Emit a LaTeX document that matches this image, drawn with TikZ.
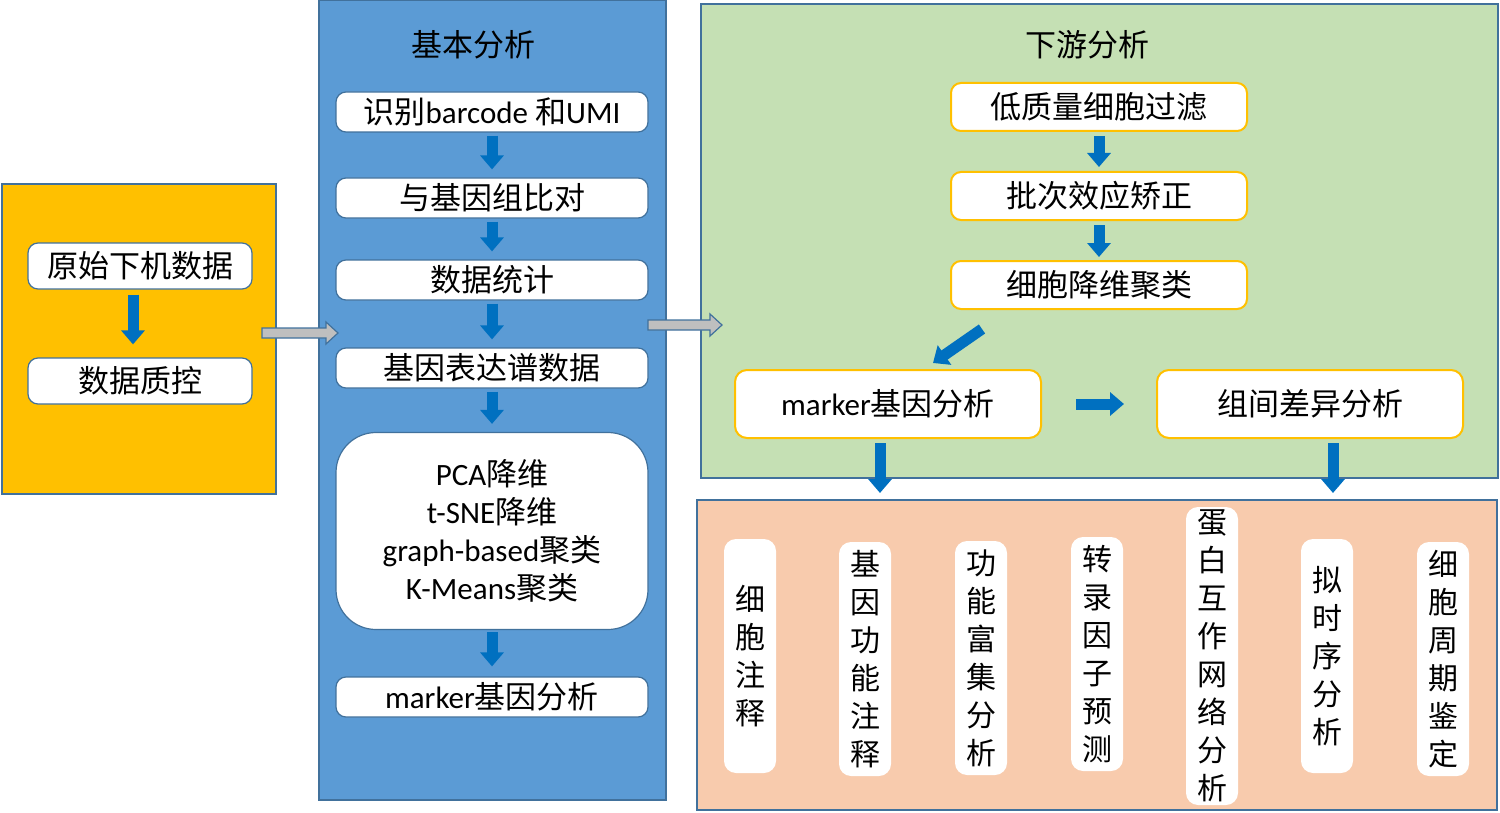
\documentclass[tikz,border=0pt]{standalone}
\usepackage{fontspec}
\setmainfont{Carlito}
\newfontfamily\cjk{Noto Sans CJK SC}
\usepackage{xcolor}
\usetikzlibrary{arrows.meta}
\usetikzlibrary{positioning}
\definecolor{panelline}{HTML}{41719C}
\definecolor{rawgold}{HTML}{FFC000}
\definecolor{basicblue}{HTML}{5B9BD5}
\definecolor{downgreen}{HTML}{C5E0B4}
\definecolor{extrasalmon}{HTML}{F8CBAD}
\definecolor{flowblue}{HTML}{0070C0}
\definecolor{linkgray}{HTML}{BFBFBF}

\begin{document}
\begin{tikzpicture}[x=0.5pt,y=-0.5pt,
    panel/.style={draw=panelline,line width=0.8pt},
    textfont/.style={font=\fontsize{15.5}{19}\selectfont\cjk},
    rawbox/.style={textfont,draw=panelline,fill=white,line width=0.6pt,rounded corners=5pt,minimum width=112pt,minimum height=23pt,inner sep=0pt},
    stepbox/.style={textfont,draw=panelline,fill=white,line width=0.6pt,rounded corners=5pt,minimum width=156pt,minimum height=20pt,inner sep=0pt},
    flowbox/.style={textfont,draw=rawgold,fill=white,line width=1pt,rounded corners=5pt,minimum width=148pt,minimum height=24pt,inner sep=0pt},
    bigbox/.style={textfont,draw=rawgold,fill=white,line width=1pt,rounded corners=6pt,minimum width=153pt,minimum height=34pt,inner sep=0pt},
    vbox/.style={font=\fontsize{15}{19}\selectfont\cjk,fill=white,rounded corners=6pt,minimum width=26pt,minimum height=117pt,inner sep=0pt,align=center},
    barrow/.style={draw=flowblue,line width=5.5pt,-{Triangle[width=11.5pt,length=7pt]}},
    linkarrow/.style={draw=panelline,fill=linkgray,line width=0.6pt}]
  \useasboundingbox (0,0) rectangle (1500,813);

  % raw data
  \draw[panel,fill=rawgold] (2,184) rectangle (276,494);
  \node[rawbox] (raw) at (140,266) {原始下机数据};
  \node[rawbox] (qc) at (140,381) {数据质控};
  \draw[barrow,shorten <=2.5pt,shorten >=6.5pt] ([xshift=-3.5pt]raw.south) -- ([xshift=-3.5pt]qc.north);

  % basic analysis
  \draw[panel,fill=basicblue] (319,0) rectangle (666,800);
  \node[textfont] (basic) at (473,45) {基本分析};
  \node[stepbox] (bc) at (492,112) {识别{\rmfamily barcode }和{\rmfamily UMI}};
  \node[stepbox] (align) at (492,198) {与基因组比对};
  \node[stepbox] (stat) at (492,280) {数据统计};
  \node[stepbox] (expr) at (492,368) {基因表达谱数据};
  \node[stepbox,rounded corners=20pt,minimum height=98.5pt,align=center,font=\fontsize{15.5}{19}\selectfont\rmfamily] (reduce) at (492,531)
    {PCA{\cjk 降维}\\t-SNE{\cjk 降维}\\graph-based{\cjk 聚类}\\K-Means{\cjk 聚类}};
  \node[stepbox] (mk0) at (492,697) {{\rmfamily marker}基因分析};
  \draw[barrow,shorten <=1.5pt,shorten >=4pt] (bc) -- (align);
  \draw[barrow,shorten <=1.5pt,shorten >=4pt] (align) -- (stat);
  \draw[barrow,shorten <=1.5pt,shorten >=4pt] (stat) -- (expr);
  \draw[barrow,shorten <=1.5pt,shorten >=4pt] (expr) -- (reduce);
  \draw[barrow,shorten <=1pt,shorten >=5pt] (reduce) -- (mk0);

  % downstream analysis
  \draw[panel,fill=downgreen] (701,4) rectangle (1498,478);
  \node[textfont] (down) at (1087,45) {下游分析};
  \node[flowbox] (filt) at (1099,107) {低质量细胞过滤};
  \node[flowbox] (batch) at (1099,196) {批次效应矫正};
  \node[flowbox] (clus) at (1099,285) {细胞降维聚类};
  \node[bigbox] (mk) at (888,404) {{\rmfamily marker}基因分析};
  \node[bigbox] (de) at (1310,404) {组间差异分析};
  \draw[barrow,shorten <=2pt,shorten >=2pt] (filt) -- (batch);
  \draw[barrow,shorten <=2pt,shorten >=1.5pt] (batch) -- (clus);
  \draw[barrow] ([xshift=-58.5pt,yshift=-9.5pt]clus.south) -- ([xshift=22.5pt,yshift=3pt]mk.north);
  \draw[barrow,shorten <=17pt,shorten >=16pt] (mk) -- (de);
  \draw[barrow,shorten <=2pt] ([xshift=-4pt]mk.south) -- ++(0,54);
  \draw[barrow,shorten <=2pt] ([xshift=11.5pt]de.south) -- ++(0,54);

  % links between panels
  \draw[linkarrow] (262,328) -- ++(64,0) -- ++(0,-6) -- ++(12,11) -- ++(-12,11) -- ++(0,-6) -- ++(-64,0) -- cycle;
  \draw[linkarrow] (648,320) -- ++(62,0) -- ++(0,-6) -- ++(12,11) -- ++(-12,11) -- ++(0,-6) -- ++(-62,0) -- cycle;

  % further analysis
  \draw[panel,fill=extrasalmon] (697,500) rectangle (1497,810);
  \node[vbox] (anno) at (750,656) {细\\胞\\注\\释};
  \node[vbox] (gofun) at (865,659) {基\\因\\功\\能\\注\\释};
  \node[vbox] (enrich) at (981,658) {功\\能\\富\\集\\分\\析};
  \node[vbox] (tf) at (1097,654) {转\\录\\因\\子\\预\\测};
  \node[vbox,minimum height=149pt] (ppi) at (1212,656) {蛋\\白\\互\\作\\网\\络\\分\\析};
  \node[vbox] (pseudo) at (1327,656) {拟\\时\\序\\分\\析};
  \node[vbox] (cycle) at (1443,659) {细\\胞\\周\\期\\鉴\\定};
\end{tikzpicture}
\end{document}
